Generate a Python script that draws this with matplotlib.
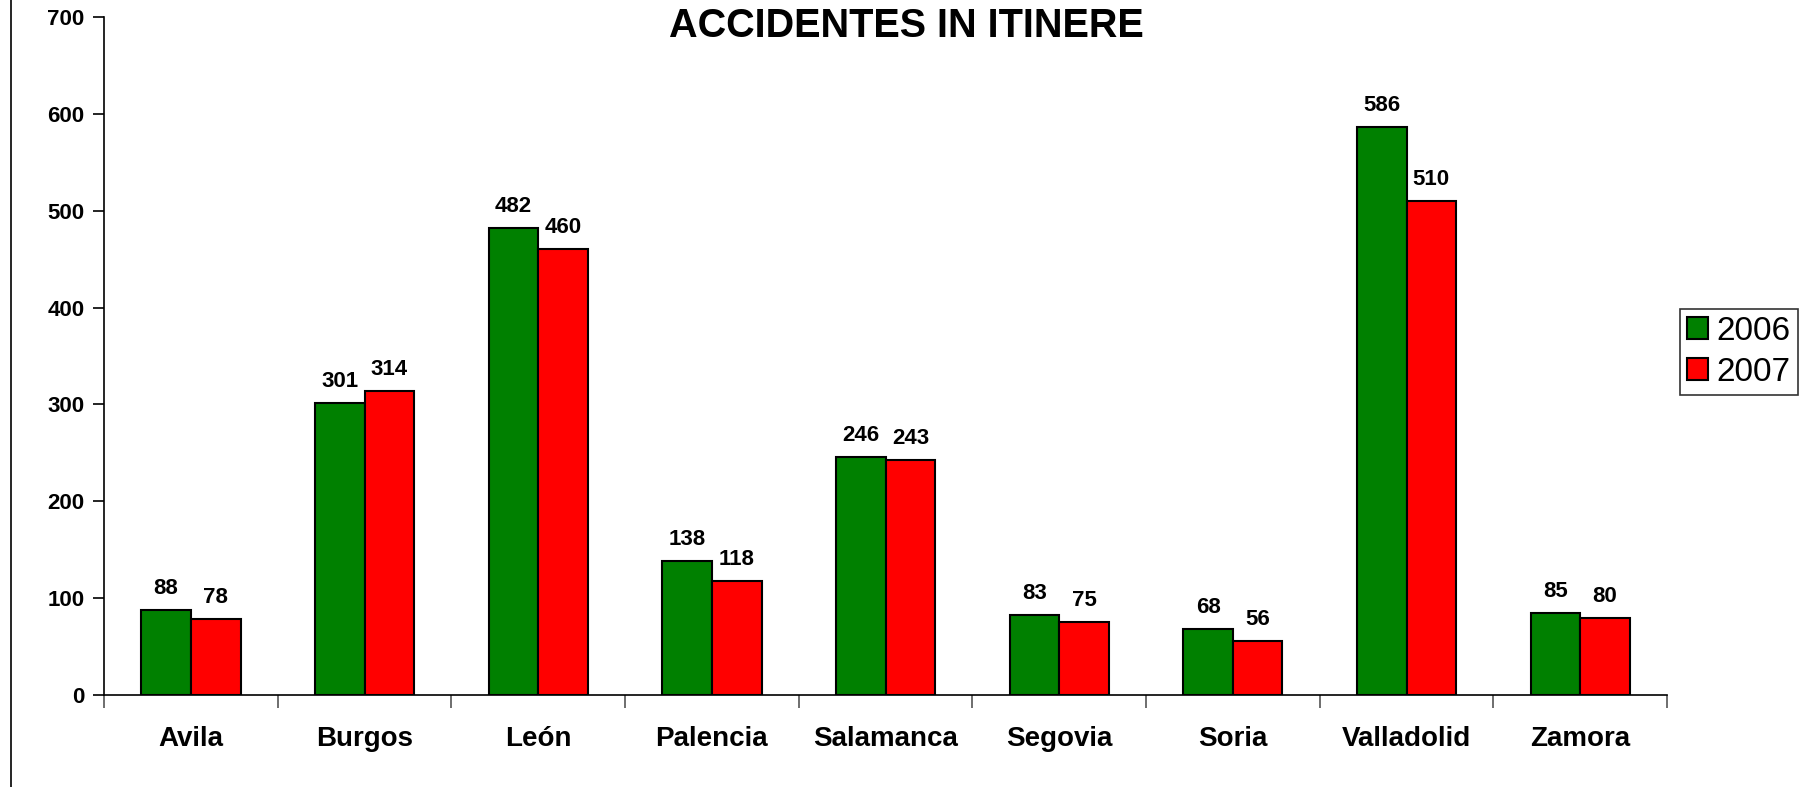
import matplotlib
matplotlib.use("Agg")
import matplotlib.pyplot as plt
from matplotlib.lines import Line2D
import numpy as np

plt.rcParams['font.family'] = ['Liberation Sans', 'DejaVu Sans']

provincias = ['Avila', 'Burgos', 'León', 'Palencia', 'Salamanca',
              'Segovia', 'Soria', 'Valladolid', 'Zamora']
accidentes_2006 = [88, 301, 482, 138, 246, 83, 68, 586, 85]
accidentes_2007 = [78, 314, 460, 118, 243, 75, 56, 510, 80]
series = ['2006', '2007']
colores = ['#008000', '#FF0000']

fig = plt.figure(figsize=(18.10, 7.87), dpi=100)
ax = fig.add_axes([0.0575, 0.1169, 0.8635, 0.8615])

x = np.arange(len(provincias))
w = 1 / 3.5  # gap width 150% como en Excel
valores = [accidentes_2006, accidentes_2007]
for k, (vals, col, nom) in enumerate(zip(valores, colores, series)):
    pos = x + (k - 0.5) * w
    ax.bar(pos, vals, width=w, color=col, edgecolor='black', linewidth=1.5, label=nom)
    for xi, v in zip(pos, vals):
        ax.annotate(str(v), (xi, v), xytext=(0, 11), textcoords='offset pixels',
                    ha='center', va='bottom', fontsize=16, fontweight='bold')

ax.set_xlim(-0.5, len(provincias) - 0.5)
ax.set_ylim(0, 700)
ax.set_yticks(range(0, 701, 100))
ax.set_yticklabels([str(v) for v in range(0, 701, 100)], fontsize=16, fontweight='bold')

# ticks mayores en los limites de categoria, etiquetas en los centros
ax.set_xticks(np.arange(-0.5, len(provincias), 1.0))
ax.set_xticklabels([])
ax.set_xticks(x, minor=True)
ax.set_xticklabels(provincias, minor=True, fontsize=20, fontweight='bold')
ax.tick_params(axis='x', which='major', direction='out', length=9, width=1.2, color='#555555')
ax.tick_params(axis='x', which='minor', length=0, pad=22)
ax.tick_params(axis='y', direction='out', length=8, width=1.2, pad=6)

ax.spines['top'].set_visible(False)
ax.spines['right'].set_visible(False)
ax.spines['left'].set_linewidth(1.2)
ax.spines['bottom'].set_linewidth(1.2)

fig.text(0.5006, 0.967, 'ACCIDENTES IN ITINERE', ha='center', va='center',
         fontsize=28.5, fontweight='bold')

leg = ax.legend(loc='center left', bbox_to_anchor=(1.008, 0.506), fontsize=24,
                frameon=True, fancybox=False, edgecolor='black', handlelength=0.62,
                handleheight=0.62, handletextpad=0.26, borderpad=0.22, labelspacing=0.3,
                borderaxespad=0)
leg.get_frame().set_linewidth(1.2)

# borde izquierdo del area del grafico
fig.add_artist(Line2D([11 / 1810, 11 / 1810], [0, 1], color='black', linewidth=1.2))

fig.savefig('out.png', dpi=100)
